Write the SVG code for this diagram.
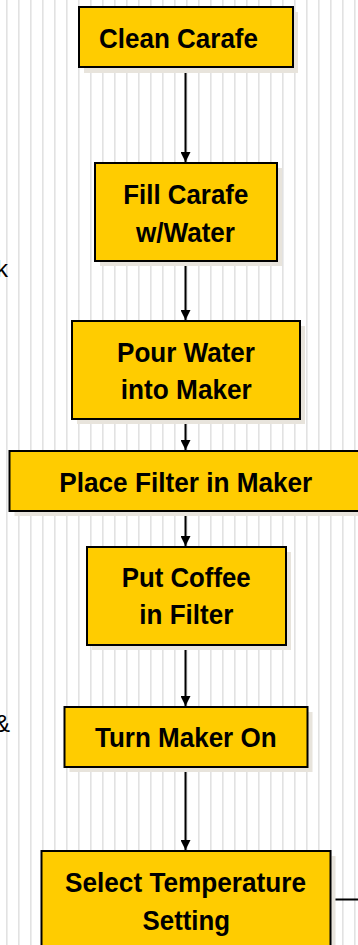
<svg xmlns="http://www.w3.org/2000/svg" width="358" height="945" viewBox="0 0 358 945">
  <defs>
    <pattern id="stripes" x="0" y="0" width="12" height="945" patternUnits="userSpaceOnUse">
      <rect x="6" y="0" width="1.6" height="945" fill="#e2e2e2"/>
    </pattern>
    <marker id="arrow" viewBox="0 0 10 10" refX="10" refY="5" markerWidth="10" markerHeight="10" markerUnits="userSpaceOnUse" orient="auto">
      <path d="M0,0 L10,5 L0,10 Z" fill="#000"/>
    </marker>
  </defs>
  <style>
    .box { fill: #ffcc00; stroke: #000; stroke-width: 2; }
    .shadow { fill: #e8e4dc; }
    .label { font-family: "Liberation Sans", Arial, sans-serif; font-weight: bold; font-size: 28px; fill: #000; }
    .side { font-family: "Liberation Sans", Arial, sans-serif; font-size: 24px; fill: #000; }
    .conn { stroke: #000; stroke-width: 2; fill: none; }
  </style>

  <rect x="0" y="0" width="358" height="945" fill="#fff"/>
  <rect x="0" y="0" width="358" height="945" fill="url(#stripes)"/>

  <!-- side text running in from the left edge -->
  <text class="side" x="-4" y="276.5">k</text>
  <text class="side" x="-6" y="731.5">&amp;</text>

  <g id="connectors">
    <line class="conn" x1="185.5" y1="67" x2="185.5" y2="162" marker-end="url(#arrow)"/>
    <line class="conn" x1="185.5" y1="261" x2="185.5" y2="320" marker-end="url(#arrow)"/>
    <line class="conn" x1="185.5" y1="419" x2="185.5" y2="450" marker-end="url(#arrow)"/>
    <line class="conn" x1="185.5" y1="511" x2="185.5" y2="546" marker-end="url(#arrow)"/>
    <line class="conn" x1="185.5" y1="645" x2="185.5" y2="706" marker-end="url(#arrow)"/>
    <line class="conn" x1="185.5" y1="767" x2="185.5" y2="850" marker-end="url(#arrow)"/>
    <line class="conn" x1="330" y1="899.5" x2="358" y2="899.5" stroke-width="1.6" stroke="#000"/>
  </g>

  <g id="clean-carafe">
    <rect class="shadow" x="84" y="12" width="214" height="61"/>
    <rect class="box" x="79" y="7" width="214" height="60"/>
    <text class="label" x="178.5" y="48" text-anchor="middle" textLength="159" lengthAdjust="spacingAndGlyphs">Clean Carafe</text>
  </g>

  <g id="fill-carafe">
    <rect class="shadow" x="100" y="168" width="182" height="98"/>
    <rect class="box" x="95" y="163" width="182" height="98"/>
    <text class="label" x="185.8" y="204" text-anchor="middle" textLength="125" lengthAdjust="spacingAndGlyphs">Fill Carafe</text>
    <text class="label" x="185.5" y="241.5" text-anchor="middle" textLength="99" lengthAdjust="spacingAndGlyphs">w/Water</text>
  </g>

  <g id="pour-water">
    <rect class="shadow" x="77" y="326" width="228" height="98"/>
    <rect class="box" x="72" y="321" width="228" height="98"/>
    <text class="label" x="186" y="361.5" text-anchor="middle" textLength="138" lengthAdjust="spacingAndGlyphs">Pour Water</text>
    <text class="label" x="186.3" y="399.3" text-anchor="middle" textLength="131" lengthAdjust="spacingAndGlyphs">into Maker</text>
  </g>

  <g id="place-filter">
    <rect class="shadow" x="14.5" y="456" width="353" height="60"/>
    <rect class="box" x="9.5" y="451" width="353" height="60"/>
    <text class="label" x="185.8" y="491.5" text-anchor="middle" textLength="253" lengthAdjust="spacingAndGlyphs">Place Filter in Maker</text>
  </g>

  <g id="put-coffee">
    <rect class="shadow" x="92" y="552" width="199" height="98"/>
    <rect class="box" x="87" y="547" width="199" height="98"/>
    <text class="label" x="186.2" y="586.5" text-anchor="middle" textLength="129" lengthAdjust="spacingAndGlyphs">Put Coffee</text>
    <text class="label" x="186.3" y="624.3" text-anchor="middle" textLength="94" lengthAdjust="spacingAndGlyphs">in Filter</text>
  </g>

  <g id="turn-maker-on">
    <rect class="shadow" x="69.5" y="712" width="243" height="60"/>
    <rect class="box" x="64.5" y="707" width="243" height="60"/>
    <text class="label" x="185.8" y="746.5" text-anchor="middle" textLength="181.5" lengthAdjust="spacingAndGlyphs">Turn Maker On</text>
  </g>

  <g id="select-temperature">
    <rect class="shadow" x="46.5" y="856" width="289" height="110"/>
    <rect class="box" x="41.5" y="851" width="289" height="110"/>
    <text class="label" x="185.5" y="891.5" text-anchor="middle" textLength="241" lengthAdjust="spacingAndGlyphs">Select Temperature</text>
    <text class="label" x="186.3" y="930" text-anchor="middle" textLength="87.5" lengthAdjust="spacingAndGlyphs">Setting</text>
  </g>
</svg>
